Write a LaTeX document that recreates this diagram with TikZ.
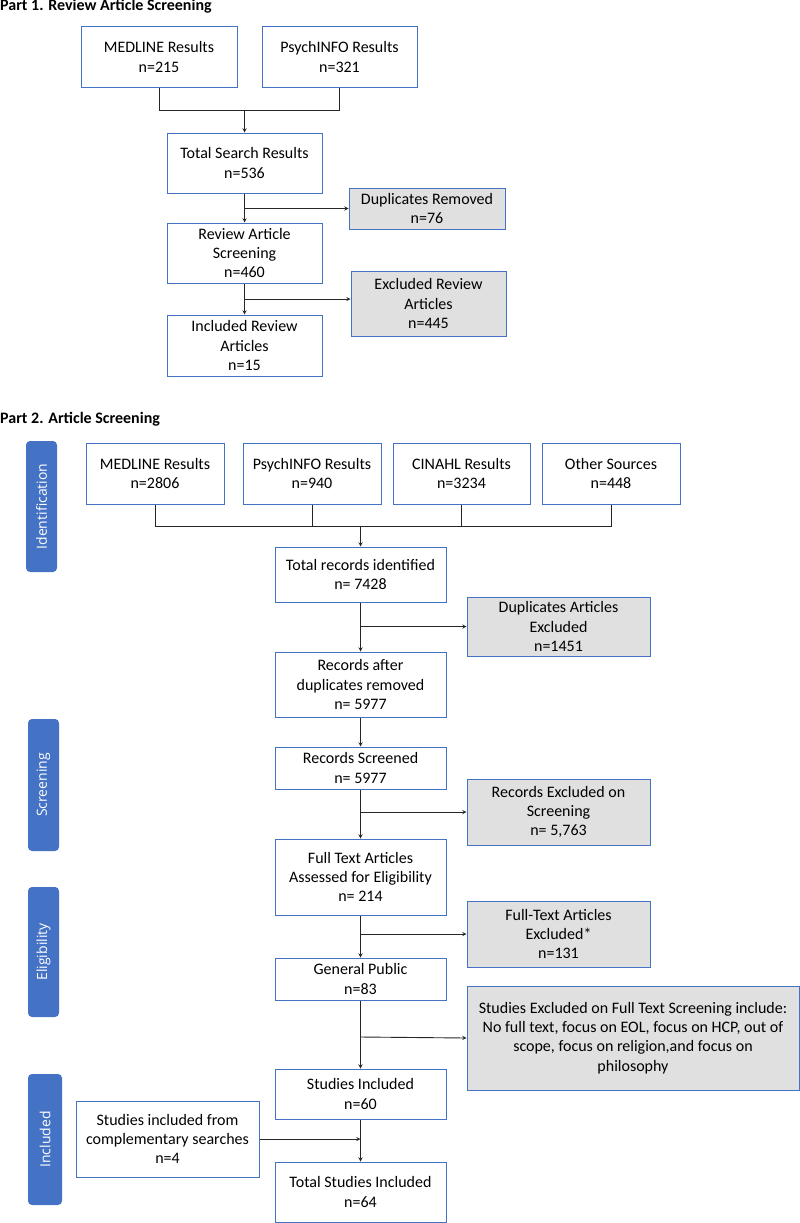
\documentclass[tikz,border=0pt]{standalone}
\usepackage{fontspec}
\setmainfont{Carlito}
\newfontfamily\tabfont{Open Sans}
\definecolor{boxblue}{HTML}{4472C4}
\definecolor{boxgrey}{HTML}{E0E0E0}
\begin{document}
\begin{tikzpicture}[x=1pt,y=-1pt,>=stealth,
    box/.style={draw=boxblue,line width=1pt,fill=white,align=center,inner sep=0pt,
      font=\fontsize{16}{19.3}\selectfont},
    greybox/.style={box,fill=boxgrey},
    tab/.style={fill=boxblue,rounded corners=4pt,rotate=90,text=white,inner sep=0pt,
      font=\tabfont\fontsize{14}{16}\selectfont},
    title/.style={anchor=base west,inner sep=0pt,font=\bfseries\fontsize{16}{19}\selectfont},
    link/.style={draw=black!85,line width=0.9pt}]
\useasboundingbox (0,0) rectangle (800,1223);
% Part 1
\node[title] (p1title) at (0,11) {Part 1. Review Article Screening};
\node[box,minimum width=156,minimum height=60] (p1med) at (159,57) {MEDLINE Results\\n=215};
\node[box,minimum width=155,minimum height=60] (p1psy) at (339.5,57) {PsychINFO Results\\n=321};
\node[box,minimum width=155,minimum height=60] (p1tot) at (244.5,163) {Total Search Results\\n=536};
\node[greybox,minimum width=156,minimum height=41] (p1dup) at (427,208.5) {Duplicates Removed\\n=76};
\node[box,minimum width=155,minimum height=60] (p1rev) at (244.5,253) {Review Article\\Screening\\n=460};
\node[greybox,minimum width=155,minimum height=65] (p1exc) at (428.5,303.5) {Excluded Review\\Articles\\n=445};
\node[box,minimum width=155,minimum height=61] (p1inc) at (244.5,345.5) {Included Review\\Articles\\n=15};
\coordinate (p1j) at (244.5,110);
\coordinate (p1b1) at (244.5,208.5);
\coordinate (p1b2) at (244.5,299);
\draw[link] (p1med.south) |- (p1j);
\draw[link] (p1psy.south) |- (p1j);
\draw[link,->] (p1j) -- (p1tot.north);
\draw[link,->] (p1tot) -- (p1rev);
\draw[link,->] (p1b1) -- (p1dup.west);
\draw[link,->] (p1rev) -- (p1inc);
\draw[link,->] (p1b2) -- (p1b2 -| p1exc.west);
% Part 2
\node[title] (p2title) at (0,423) {Part 2. Article Screening};
\node[tab,minimum width=131,minimum height=31] (tabid) at (41.5,506.5) {Identification};
\node[tab,minimum width=132,minimum height=31] (tabscr) at (43.5,785) {Screening};
\node[tab,minimum width=130,minimum height=31] (tabeli) at (43.5,952) {Eligibility};
\node[tab,minimum width=131,minimum height=34] (tabinc) at (45,1139.5) {Included};
\node[box,minimum width=138,minimum height=61] (p2med) at (155,473.5) {MEDLINE Results\\n=2806};
\node[box,minimum width=138,minimum height=61] (p2psy) at (312,473.5) {PsychINFO Results\\n=940};
\node[box,minimum width=137,minimum height=61] (p2cin) at (461.5,473.5) {CINAHL Results\\n=3234};
\node[box,minimum width=138,minimum height=61] (p2oth) at (611,473.5) {Other Sources\\n=448};
\node[box,minimum width=171,minimum height=55] (p2tot) at (360.5,574.5) {Total records identified\\n= 7428};
\node[greybox,minimum width=183,minimum height=59] (p2dup) at (558.5,626.5) {Duplicates Articles\\Excluded\\n=1451};
\node[box,minimum width=171,minimum height=65] (p2aft) at (360.5,684.5) {Records after\\duplicates removed\\n= 5977};
\node[box,minimum width=171,minimum height=42] (p2scr) at (360.5,768) {Records Screened\\n= 5977};
\node[greybox,minimum width=183,minimum height=66] (p2rex) at (558.5,812) {Records Excluded on\\Screening\\n= 5,763};
\node[box,minimum width=171,minimum height=76] (p2ful) at (360.5,877) {Full Text Articles\\Assessed for Eligibility\\n= 214};
\node[greybox,minimum width=183,minimum height=66] (p2fex) at (558.5,934) {Full-Text Articles\\Excluded*\\n=131};
\node[box,minimum width=171,minimum height=42] (p2gen) at (360.5,979) {General Public\\n=83};
\node[greybox,minimum width=332,minimum height=104] (p2sex) at (633,1038) {Studies Excluded on Full Text Screening include:\\No full text, focus on EOL, focus on HCP, out of\\scope, focus on religion,and focus on\\philosophy};
\node[box,minimum width=171,minimum height=50] (p2sin) at (360.5,1094) {Studies Included\\n=60};
\node[box,minimum width=183,minimum height=76] (p2com) at (167.5,1139) {Studies included from\\complementary searches\\n=4};
\node[box,minimum width=171,minimum height=60] (p2all) at (360.5,1192) {Total Studies Included\\n=64};
\coordinate (p2j) at (360.5,526);
\coordinate (p2b1) at (360.5,626.5);
\coordinate (p2b2) at (360.5,812);
\coordinate (p2b3) at (360.5,934);
\coordinate (p2b4) at (360.5,1037);
\coordinate (p2b5) at (360.5,1139);
\draw[link] (p2med.south) |- (p2j);
\draw[link] (p2psy.south) |- (p2j);
\draw[link] (p2cin.south) |- (p2j);
\draw[link] (p2oth.south) |- (p2j);
\draw[link,->] (p2j) -- (p2tot.north);
\draw[link,->] (p2tot) -- (p2aft);
\draw[link,->] (p2b1) -- (p2dup.west);
\draw[link,->] (p2aft) -- (p2scr);
\draw[link,->] (p2scr) -- (p2ful);
\draw[link,->] (p2b2) -- (p2rex.west);
\draw[link,->] (p2ful) -- (p2gen);
\draw[link,->] (p2b3) -- (p2fex.west);
\draw[link,->] (p2gen) -- (p2sin);
\draw[link,->] (p2b4) -- (p2sex.west);
\draw[link,->] (p2sin) -- (p2all);
\draw[link,->] (p2com.east) -- (p2b5);
\end{tikzpicture}
\end{document}
